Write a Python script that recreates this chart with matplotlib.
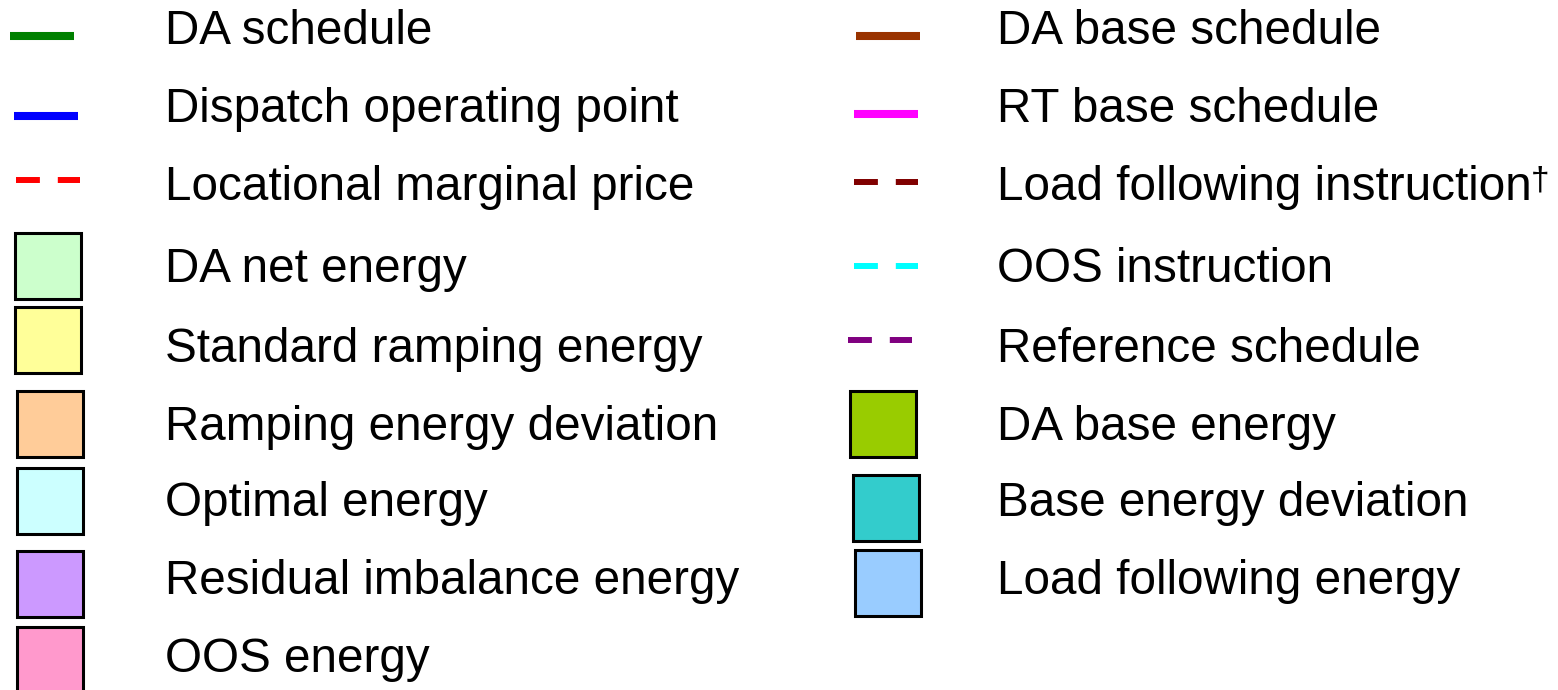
import matplotlib
matplotlib.use("Agg")
import matplotlib.pyplot as plt
from matplotlib.patches import Rectangle

# legend entries: (label, colour, kind)
left_labels = ["DA schedule", "Dispatch operating point", "Locational marginal price",
               "DA net energy", "Standard ramping energy", "Ramping energy deviation",
               "Optimal energy", "Residual imbalance energy", "OOS energy"]
left_colors = ["#008000", "#0000ff", "#ff0000",
               "#ccffcc", "#ffff99", "#ffcc99",
               "#ccffff", "#cc99ff", "#ff99cc"]
left_kinds = ["line", "line", "dash", "box", "box", "box", "box", "box", "box"]

right_labels = ["DA base schedule", "RT base schedule", "Load following instruction",
                "OOS instruction", "Reference schedule", "DA base energy",
                "Base energy deviation", "Load following energy"]
right_colors = ["#993300", "#ff00ff", "#800000",
                "#00ffff", "#800080", "#99cc00",
                "#33cccc", "#99ccff"]
right_kinds = ["line", "line", "dash", "dash", "dash", "box", "box", "box"]
footnote_row = 2  # "Load following instruction" carries a dagger

# layout (pixel coordinates, y downwards)
W, H = 1558, 690
left_rows = [36, 116, 180, 266, 340, 424, 501, 584, 660]
left_marker_x = [10, 14, 16, 15, 15, 17, 17, 17, 17]
left_text_x = 165
right_rows = [36, 114, 182, 266, 340, 424, 508, 583]
right_marker_x = [856, 854, 854, 854, 848, 850, 853, 855]
right_text_x = 997
text_rows_left = [31, 109, 187, 270, 349, 427, 504, 582, 660]
text_rows_right = [31, 109, 187, 270, 349, 427, 504, 582]
FS = 34.3

fig = plt.figure(figsize=(W / 100, H / 100), dpi=100)
ax = fig.add_axes([0, 0, 1, 1])
ax.set_xlim(0, W)
ax.set_ylim(H, 0)
ax.axis("off")


def draw_marker(x, y, kind, color):
    if kind == "line":
        ax.plot([x, x + 64], [y, y], color=color, lw=5.8, solid_capstyle="butt")
    elif kind == "dash":
        ax.plot([x, x + 64], [y, y], color=color, lw=4.3,
                dashes=(4.0, 3.0), dash_capstyle="butt")
    else:
        ax.add_patch(Rectangle((x, y - 33), 66, 66, facecolor=color,
                               edgecolor="black", lw=2.2))


for lab, col, kind, ym, xm, yt in zip(left_labels, left_colors, left_kinds,
                                      left_rows, left_marker_x, text_rows_left):
    draw_marker(xm, ym, kind, col)
    ax.text(left_text_x, yt, lab, fontsize=FS, family="Liberation Sans",
            va="center", ha="left")

for i, (lab, col, kind, ym, xm, yt) in enumerate(zip(right_labels, right_colors, right_kinds,
                                                     right_rows, right_marker_x, text_rows_right)):
    draw_marker(xm, ym, kind, col)
    t = ax.text(right_text_x, yt, lab, fontsize=FS, family="Liberation Sans",
                va="center", ha="left")
    if i == footnote_row:
        ax.annotate("\u2020", xy=(1, 1), xycoords=t, xytext=(-1, -1),
                    textcoords="offset points", fontsize=24,
                    family="Liberation Sans", va="top", ha="left")

fig.savefig("out.png", dpi=100)
